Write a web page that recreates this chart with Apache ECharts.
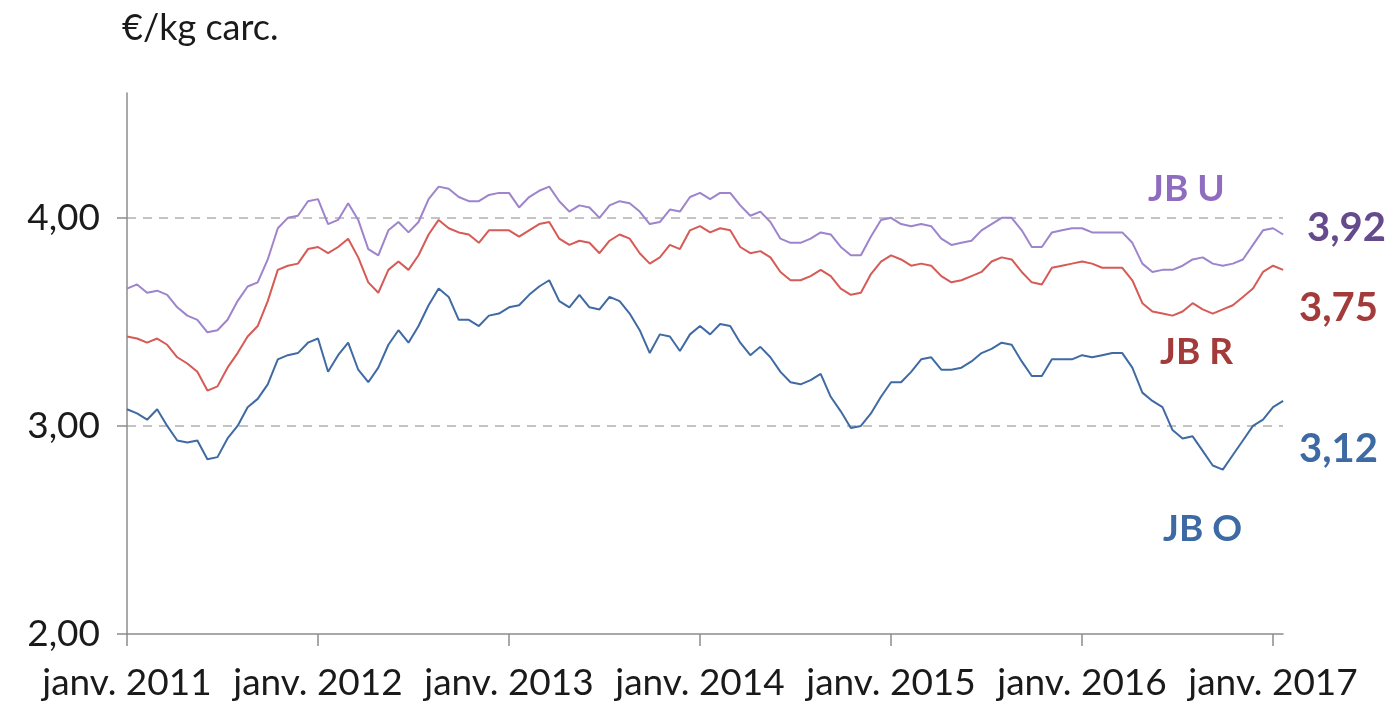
<!DOCTYPE html>
<html>
<head>
<meta charset="utf-8">
<script src="https://cdn.jsdelivr.net/npm/echarts@6/dist/echarts.min.js"></script>
<style>
  html, body { margin: 0; padding: 0; background: #fff; }
  #chart { width: 1395px; height: 707px; }
</style>
</head>
<body>
<div id="chart"></div>
<script>
// one sample every 1/19 year starting janv. 2011
var startYear = 2011;
var stepYear = 1 / 19;

var jbU = [3.66, 3.68, 3.64, 3.65, 3.63, 3.57, 3.53, 3.51, 3.45, 3.46,
  3.51, 3.60, 3.67, 3.69, 3.80, 3.95, 4.00, 4.01, 4.08, 4.09,
  3.97, 3.99, 4.07, 3.99, 3.85, 3.82, 3.94, 3.98, 3.93, 3.98,
  4.09, 4.15, 4.14, 4.10, 4.08, 4.08, 4.11, 4.12, 4.12, 4.05,
  4.10, 4.13, 4.15, 4.08, 4.03, 4.06, 4.05, 4.00, 4.06, 4.08,
  4.07, 4.03, 3.97, 3.98, 4.04, 4.03, 4.10, 4.12, 4.09, 4.12,
  4.12, 4.06, 4.01, 4.03, 3.98, 3.90, 3.88, 3.88, 3.90, 3.93,
  3.92, 3.86, 3.82, 3.82, 3.91, 3.99, 4.00, 3.97, 3.96, 3.97,
  3.96, 3.90, 3.87, 3.88, 3.89, 3.94, 3.97, 4.00, 4.00, 3.94,
  3.86, 3.86, 3.93, 3.94, 3.95, 3.95, 3.93, 3.93, 3.93, 3.93,
  3.88, 3.78, 3.74, 3.75, 3.75, 3.77, 3.80, 3.81, 3.78, 3.77,
  3.78, 3.80, 3.87, 3.94, 3.95, 3.92];

var jbR = [3.43, 3.42, 3.40, 3.42, 3.39, 3.33, 3.30, 3.26, 3.17, 3.19,
  3.28, 3.35, 3.43, 3.48, 3.60, 3.75, 3.77, 3.78, 3.85, 3.86,
  3.83, 3.86, 3.90, 3.81, 3.69, 3.64, 3.75, 3.79, 3.75, 3.82,
  3.92, 3.99, 3.95, 3.93, 3.92, 3.88, 3.94, 3.94, 3.94, 3.91,
  3.94, 3.97, 3.98, 3.90, 3.87, 3.89, 3.88, 3.83, 3.89, 3.92,
  3.90, 3.83, 3.78, 3.81, 3.87, 3.85, 3.94, 3.96, 3.93, 3.95,
  3.94, 3.86, 3.83, 3.84, 3.81, 3.74, 3.70, 3.70, 3.72, 3.75,
  3.72, 3.66, 3.63, 3.64, 3.73, 3.79, 3.82, 3.80, 3.77, 3.78,
  3.77, 3.72, 3.69, 3.70, 3.72, 3.74, 3.79, 3.81, 3.80, 3.74,
  3.69, 3.68, 3.76, 3.77, 3.78, 3.79, 3.78, 3.76, 3.76, 3.76,
  3.70, 3.59, 3.55, 3.54, 3.53, 3.55, 3.59, 3.56, 3.54, 3.56,
  3.58, 3.62, 3.66, 3.74, 3.77, 3.75];

var jbO = [3.08, 3.06, 3.03, 3.08, 3.00, 2.93, 2.92, 2.93, 2.84, 2.85,
  2.94, 3.00, 3.09, 3.13, 3.20, 3.32, 3.34, 3.35, 3.40, 3.42,
  3.26, 3.34, 3.40, 3.27, 3.21, 3.28, 3.39, 3.46, 3.40, 3.48,
  3.58, 3.66, 3.62, 3.51, 3.51, 3.48, 3.53, 3.54, 3.57, 3.58,
  3.63, 3.67, 3.70, 3.60, 3.57, 3.63, 3.57, 3.56, 3.62, 3.60,
  3.54, 3.46, 3.35, 3.44, 3.43, 3.36, 3.44, 3.48, 3.44, 3.49,
  3.48, 3.40, 3.34, 3.38, 3.33, 3.26, 3.21, 3.20, 3.22, 3.25,
  3.14, 3.07, 2.99, 3.00, 3.06, 3.14, 3.21, 3.21, 3.26, 3.32,
  3.33, 3.27, 3.27, 3.28, 3.31, 3.35, 3.37, 3.40, 3.39, 3.31,
  3.24, 3.24, 3.32, 3.32, 3.32, 3.34, 3.33, 3.34, 3.35, 3.35,
  3.28, 3.16, 3.12, 3.09, 2.98, 2.94, 2.95, 2.88, 2.81, 2.79,
  2.86, 2.93, 3.00, 3.03, 3.09, 3.12];

var yearTicks = [2011, 2012, 2013, 2014, 2015, 2016, 2017];
var valueTicks = [2, 3, 4];

function pairs(arr) {
  return arr.map(function (v, i) { return [startYear + i * stepYear, v]; });
}

var chart = echarts.init(document.getElementById('chart'));
var font = 'Lato, "DejaVu Sans", sans-serif';

var option = {
  animation: false,
  backgroundColor: '#fff',
  grid: { left: 127, right: 112, top: 93, bottom: 73 },
  xAxis: {
    type: 'value', min: 2011, max: 2017.052, interval: 1,
    axisLine: { lineStyle: { color: '#8c8c8c', width: 1.5 } },
    axisTick: { show: true, length: 12, customValues: yearTicks, lineStyle: { color: '#8c8c8c', width: 1.5 } },
    axisLabel: {
      customValues: yearTicks,
      formatter: function (v) { return 'janv. ' + v; },
      color: '#1a1a1a', fontFamily: font, fontSize: 37, margin: 31
    },
    splitLine: { show: false }
  },
  yAxis: {
    type: 'value', min: 2, max: 4.6, interval: 1,
    axisLine: { show: true, lineStyle: { color: '#8c8c8c', width: 1.5 } },
    axisTick: { show: true, length: 10, customValues: valueTicks, lineStyle: { color: '#8c8c8c', width: 1.5 } },
    axisLabel: {
      customValues: valueTicks,
      formatter: function (v) { return v.toFixed(2).replace('.', ','); },
      color: '#1a1a1a', fontFamily: font, fontSize: 37, margin: 27
    },
    splitLine: { show: true, showMinLine: false, showMaxLine: true, lineStyle: { color: '#b0b0b0', type: [9, 7], width: 1.5 } }
  },
  series: [
    { name: 'JB U', type: 'line', data: pairs(jbU), showSymbol: false, lineStyle: { color: '#9d84cc', width: 2 } },
    { name: 'JB R', type: 'line', data: pairs(jbR), showSymbol: false, lineStyle: { color: '#d65a55', width: 2 } },
    { name: 'JB O', type: 'line', data: pairs(jbO), showSymbol: false, lineStyle: { color: '#3f6aa3', width: 2 } }
  ],
  graphic: [
    { type: 'text', left: 122, top: 10, style: { text: '€/kg carc.', font: '36px ' + font, fill: '#1a1a1a' } },
    { type: 'text', left: 1148, top: 171, style: { text: 'JB U', font: 'bold 37px ' + font, fill: '#8f6cbf' } },
    { type: 'text', left: 1307, top: 208, style: { text: '3,92', font: 'bold 40px ' + font, fill: '#654a8c' } },
    { type: 'text', left: 1299, top: 288, style: { text: '3,75', font: 'bold 40px ' + font, fill: '#a33b3b' } },
    { type: 'text', left: 1160, top: 334, style: { text: 'JB R', font: 'bold 37px ' + font, fill: '#a33b3b' } },
    { type: 'text', left: 1299, top: 429, style: { text: '3,12', font: 'bold 40px ' + font, fill: '#3d6aa3' } },
    { type: 'text', left: 1163, top: 511, style: { text: 'JB O', font: 'bold 37px ' + font, fill: '#3d6aa3' } }
  ]
};
chart.setOption(option);
</script>
</body>
</html>
